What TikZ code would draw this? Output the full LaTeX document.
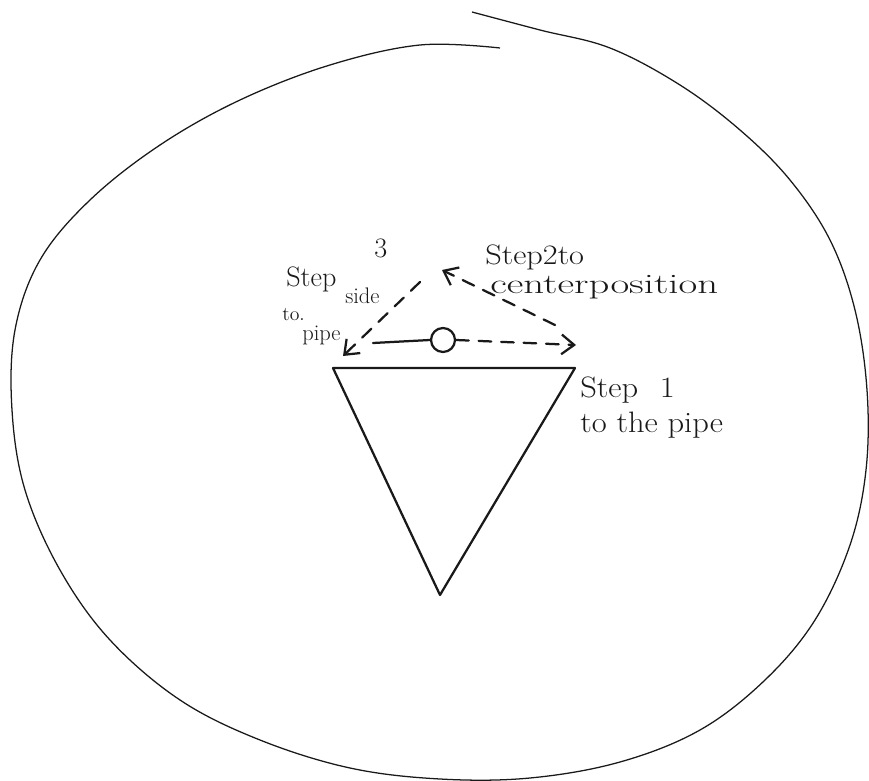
\documentclass[tikz,border=0pt]{standalone}
\usepackage{tikz}
\usetikzlibrary{arrows.meta, positioning, calc}
\definecolor{PenBlack}{RGB}{25, 25, 25}

\begin{document}
\begin{tikzpicture}[x=0.025cm, y=-0.025cm,
  pen/.style={PenBlack, line width=1.6pt, line cap=round, line join=round},
  dashpen/.style={pen, dash pattern=on 9pt off 7pt},
  barb/.style={-{Straight Barb[length=9pt, width=14pt, line width=1.6pt]}},
  lbl/.style={PenBlack, inner sep=0pt, anchor=base west, font=\fontsize{21}{23}\selectfont},
  small lbl/.style={lbl, font=\fontsize{16}{18}\selectfont}]
\useasboundingbox (0, 0) rectangle (869, 781);
\draw[PenBlack, line width=0.9pt] plot[smooth, tension=0.6] coordinates {
  (472, 12) (540, 30) (610, 48) (680, 85) (740, 130) (790, 180) (830, 240)
  (855, 310) (867, 390) (866, 470) (850, 545) (815, 620) (765, 680) (700, 730)
  (620, 762) (530, 778) (440, 779) (350, 768) (260, 740) (180, 700) (110, 640)
  (60, 570) (25, 490) (12, 410) (15, 330) (40, 260) (90, 200) (160, 145)
  (240, 100) (330, 65) (420, 45) (500, 48)};
\coordinate (tl) at (333, 368);
\coordinate (tr) at (575, 368);
\coordinate (bot) at (440, 595);
\draw[pen] (tl) -- (tr) -- (bot) -- cycle;
\node[draw, pen, circle, minimum size=24*0.025cm, inner sep=0pt] (ball) at (443, 340) {};
\coordinate (solidend) at (373, 343);
\coordinate (rtip) at (576, 345);
\coordinate (rstart) at (555, 325);
\coordinate (apex) at (442, 270);
\coordinate (lstart) at (420, 282);
\coordinate (ltip) at (343, 356);
\draw[pen] (ball.west) -- (solidend);
\draw[dashpen, barb] (ball.east) -- (rtip);
\draw[dashpen, barb] (rstart) -- (apex);
\draw[dashpen, barb] (lstart) -- (ltip);
\node[lbl] (step1) at (580, 397) {\scalebox{1.1}[1]{Step\hspace{14pt}1}};
\node[lbl] (step1b) at (580, 432) {\scalebox{1.1}[1]{to the pipe}};
\node[lbl, font=\fontsize{20}{22}\selectfont] (step2) at (485, 265) {\scalebox{1.15}[1]{Step2to}};
\node[lbl, font=\fontsize{20}{22}\selectfont] (step2b) at (490, 293) {\scalebox{1.45}[1]{centerposition}};
\node[lbl, font=\fontsize{20}{22}\selectfont] (step3) at (286, 286) {Step};
\node[lbl, font=\fontsize{20}{22}\selectfont] (three) at (374, 258) {3};
\node[small lbl] (side) at (345, 304) {side};
\node[lbl, font=\fontsize{14}{16}\selectfont] (to) at (282, 320) {to.};
\node[small lbl] (pipe) at (302, 341) {pipe};
\end{tikzpicture}
\end{document}
